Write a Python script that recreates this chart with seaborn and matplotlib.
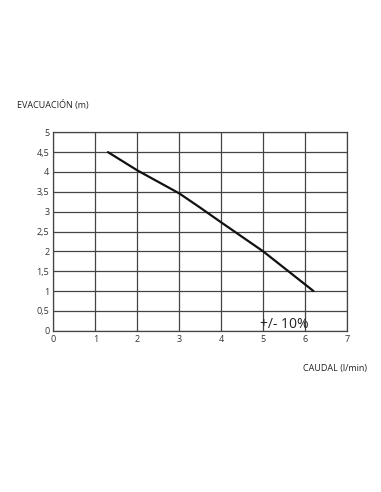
import matplotlib
matplotlib.use("Agg")
import matplotlib.pyplot as plt
import seaborn as sns
import pandas as pd

caudal = [1.3, 2.0, 3.0, 3.5, 4.0, 5.0, 6.2]
evacuacion = [4.5, 4.04, 3.46, 3.1, 2.73, 2.0, 1.0]
x_ticks = [0, 1, 2, 3, 4, 5, 6, 7]
y_ticks = [0, 0.5, 1, 1.5, 2, 2.5, 3, 3.5, 4, 4.5, 5]
y_labels = ["0", "0,5", "1", "1,5", "2", "2,5", "3", "3,5", "4", "4,5", "5"]

sns.set_theme(style="white")
plt.rcParams['font.family'] = ['Open Sans', 'DejaVu Sans']

df = pd.DataFrame({"caudal": caudal, "evacuacion": evacuacion})

fig = plt.figure(figsize=(3.81, 4.92), dpi=100)
ax = fig.add_axes([0.1404, 0.3278, 0.7704, 0.4033])

sns.lineplot(data=df, x="caudal", y="evacuacion", ax=ax, color="#111111", linewidth=1.6)

ax.set_xlim(0, 7)
ax.set_ylim(0, 5)
ax.set_xticks(x_ticks)
ax.set_xticklabels([str(t) for t in x_ticks])
ax.set_yticks(y_ticks)
ax.set_yticklabels(y_labels)
ax.grid(True, color="#444444", linewidth=0.9)
for s in ax.spines.values():
    s.set_color("#444444")
    s.set_linewidth(0.9)
ax.tick_params(axis="both", length=0, labelsize=6.5, colors="#333333", pad=3)
ax.set_xlabel("")
ax.set_ylabel("")

ax.text(4.93, 0.06, "+/- 10%", fontsize=10, color="#222222", va="baseline", ha="left")

fig.text(17 / 381, 1 - 105 / 492, "EVACUACIÓN (m)", fontsize=6.5, color="#222222", va="center", ha="left")
fig.text(367 / 381, 1 - 369 / 492, "CAUDAL (l/min)", fontsize=6.5, color="#222222", va="center", ha="right")

fig.savefig("out.png", dpi=100)
